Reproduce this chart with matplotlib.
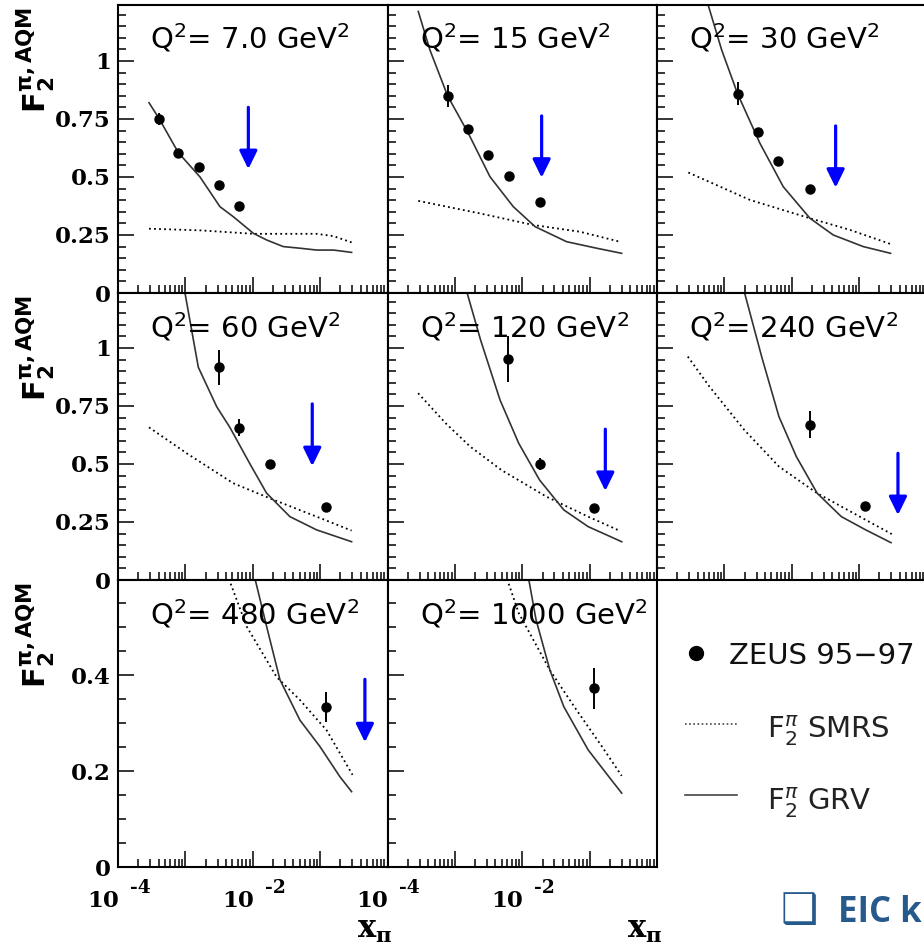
import matplotlib.pyplot as plt
import matplotlib.ticker as ticker
import matplotlib.transforms as mtransforms
import numpy as np

W, H = 924, 947

q2_labels = ['7.0', '15', '30', '60', '120', '240', '480', '1000']

# ZEUS 95-97 points
zeus_x = [
    [4.1e-4, 7.9e-4, 1.6e-3, 3.2e-3, 6.2e-3],
    [7.8e-4, 1.58e-3, 3.13e-3, 6.35e-3, 1.83e-2],
    [1.57e-3, 3.12e-3, 6.3e-3, 1.86e-2],
    [3.14e-3, 6.24e-3, 1.8e-2, 0.121],
    [6.2e-3, 1.81e-2, 0.117],
    [1.84e-2, 0.121],
    [0.121],
    [0.117],
]
zeus_f2 = [
    [0.75, 0.605, 0.542, 0.464, 0.376],
    [0.849, 0.705, 0.593, 0.506, 0.392],
    [0.858, 0.692, 0.570, 0.448],
    [0.917, 0.657, 0.50, 0.316],
    [0.953, 0.50, 0.309],
    [0.67, 0.319],
    [0.334],
    [0.372],
]
zeus_err = [
    [0.025, 0.012, 0.01, 0.01, 0.01],
    [0.047, 0.015, 0.012, 0.012, 0.012],
    [0.05, 0.015, 0.012, 0.012],
    [0.075, 0.035, 0.012, 0.012],
    [0.10, 0.025, 0.012],
    [0.057, 0.012],
    [0.031],
    [0.043],
]

# GRV curves (log10 x_pi)
grv_logx = [
    [-3.54, -3.387, -3.105, -2.783, -2.487, -2.29, -1.99, -1.79, -1.547, -1.30, -1.05, -0.80, -0.533],
    [-3.543, -3.37, -3.107, -2.80, -2.479, -2.133, -1.81, -1.341, -0.896, -0.525],
    [-3.26, -3.04, -2.803, -2.472, -2.126, -1.73, -1.384, -0.939, -0.533],
    [-3.02, -2.808, -2.535, -2.338, -2.041, -1.794, -1.448, -1.052, -0.533],
    [-2.86, -2.618, -2.33, -2.052, -1.743, -1.383, -1.022, -0.524],
    [-2.73, -2.447, -2.19, -1.932, -1.623, -1.263, -0.902, -0.527],
    [-2.0, -1.794, -1.596, -1.30, -1.003, -0.706, -0.533],
    [-1.93, -1.795, -1.589, -1.383, -1.022, -0.714, -0.524],
]
grv_f2 = [
    [0.82, 0.75, 0.605, 0.50, 0.372, 0.329, 0.257, 0.228, 0.20, 0.193, 0.185, 0.185, 0.175],
    [1.213, 1.047, 0.849, 0.688, 0.501, 0.372, 0.286, 0.221, 0.193, 0.171],
    [1.26, 1.047, 0.858, 0.645, 0.458, 0.322, 0.25, 0.20, 0.171],
    [1.26, 0.917, 0.747, 0.657, 0.50, 0.374, 0.273, 0.216, 0.165],
    [1.28, 1.034, 0.776, 0.589, 0.431, 0.302, 0.23, 0.165],
    [1.27, 0.963, 0.704, 0.532, 0.374, 0.273, 0.216, 0.161],
    [0.62, 0.501, 0.39, 0.306, 0.251, 0.188, 0.157],
    [0.62, 0.515, 0.41, 0.334, 0.244, 0.188, 0.154],
]

# SMRS curves (log10 x_pi)
smrs_logx = [
    [-3.54, -2.783, -1.99, -1.05, -0.80, -0.533],
    [-3.543, -2.628, -1.837, -1.144, -0.55],
    [-3.535, -2.62, -1.73, -1.136, -0.533],
    [-3.54, -2.98, -2.289, -1.745, -1.052, -0.533],
    [-3.545, -3.134, -2.773, -2.31, -1.64, -1.022, -0.56],
    [-3.543, -3.22, -2.705, -2.19, -1.623, -0.902, -0.516],
    [-2.38, -2.09, -1.646, -1.30, -0.904, -0.519],
    [-2.25, -2.052, -1.589, -1.228, -0.817, -0.524],
]
smrs_f2 = [
    [0.277, 0.27, 0.255, 0.255, 0.245, 0.218],
    [0.397, 0.343, 0.293, 0.264, 0.221],
    [0.519, 0.401, 0.322, 0.272, 0.211],
    [0.658, 0.546, 0.417, 0.352, 0.273, 0.213],
    [0.805, 0.675, 0.575, 0.474, 0.359, 0.273, 0.213],
    [0.963, 0.833, 0.647, 0.489, 0.374, 0.259, 0.198],
    [0.61, 0.501, 0.396, 0.348, 0.285, 0.192],
    [0.61, 0.529, 0.41, 0.334, 0.251, 0.19],
]

# blue arrows (x, from, to)
arrow_x = [8.6e-3, 1.94e-2, 4.48e-2, 7.64e-2, 0.171, 0.377, 0.462, None]
arrow_from = [0.80, 0.763, 0.72, 0.759, 0.65, 0.546, 0.391, None]
arrow_to = [0.534, 0.497, 0.454, 0.491, 0.384, 0.28, 0.26, None]

col_left = [118, 387.5, 657]
panel_w = 269.5
row_top = [5, 293, 580]
row_h = [288, 287, 287]
row_ymax = [1.241, 1.237, 0.598]

fig = plt.figure(figsize=(W / 100, H / 100), dpi=100, facecolor='white')


def px_axes(left, top, width, height):
    return fig.add_axes([left / W, 1 - (top + height) / H, width / W, height / H])


tick_font = dict(family='DejaVu Serif', weight='bold', color='black')

for i in range(8):
    r, c = divmod(i, 3)
    ax = px_axes(col_left[c], row_top[r], panel_w, row_h[r])
    ax.set_xscale('log')
    ax.set_xlim(1e-4, 1)
    ax.set_ylim(0, row_ymax[r])

    ax.plot(10 ** np.array(smrs_logx[i]), smrs_f2[i], color='black',
            ls=(0, (1, 1.8)), lw=1.3)
    ax.plot(10 ** np.array(grv_logx[i]), grv_f2[i], color='#333333', lw=1.2)
    ax.errorbar(zeus_x[i], zeus_f2[i], yerr=zeus_err[i], fmt='o', color='black',
                ms=6.5, elinewidth=1.4, capsize=0)
    if arrow_x[i] is not None:
        ax.annotate('', xy=(arrow_x[i], arrow_to[i]), xytext=(arrow_x[i], arrow_from[i]),
                    arrowprops=dict(arrowstyle='-|>,head_length=0.55,head_width=0.27',
                                    mutation_scale=20, color='#0000ff', lw=2.3,
                                    shrinkA=0, shrinkB=0))

    ax.text(32 / panel_w, 1 - 44 / row_h[r], r'Q$^2$= ' + q2_labels[i] + r' GeV$^2$',
            transform=ax.transAxes, fontsize=21, family='DejaVu Sans',
            math_fontfamily='dejavusans', va='baseline', ha='left')

    # axis styling
    for sp in ax.spines.values():
        sp.set_linewidth(1.5)
    ax.xaxis.set_major_locator(ticker.LogLocator(base=10, numticks=10))
    ax.xaxis.set_minor_locator(ticker.LogLocator(base=10, subs=np.arange(2, 10), numticks=20))
    ax.xaxis.set_major_formatter(ticker.NullFormatter())
    ax.xaxis.set_minor_formatter(ticker.NullFormatter())
    if r < 2:
        ax.yaxis.set_major_locator(ticker.MultipleLocator(0.25))
    else:
        ax.yaxis.set_major_locator(ticker.MultipleLocator(0.2))
    ax.yaxis.set_minor_locator(ticker.MultipleLocator(0.05))
    if c == 0:
        ax.yaxis.set_major_formatter(ticker.FuncFormatter(lambda v, p: '%g' % v))
    else:
        ax.yaxis.set_major_formatter(ticker.NullFormatter())
    ax.tick_params(which='both', direction='in', top=False, right=False, width=1.1)
    ax.tick_params(which='major', length=11.5, pad=5, labelsize=16.5)
    ax.tick_params(which='minor', length=5.8)
    for lab in ax.get_yticklabels():
        lab.set_fontfamily('DejaVu Serif')
        lab.set_fontweight('bold')

    # bottom row: 10^-4, 10^-2 labels and x title
    if r == 2:
        trans = mtransforms.blended_transform_factory(ax.transData, ax.transAxes)
        for tv, ex in [(1e-4, '-4'), (1e-2, '-2')]:
            ax.text(tv, 0, '10', fontsize=16.5, ha='right', va='baseline',
                    transform=trans + mtransforms.ScaledTranslation(0.01, -0.40, fig.dpi_scale_trans),
                    **tick_font)
            ax.text(tv, 0, ex, fontsize=13.5, ha='left', va='baseline',
                    transform=trans + mtransforms.ScaledTranslation(0.12, -0.255, fig.dpi_scale_trans),
                    **tick_font)
        fig.text((col_left[c] + panel_w + 5) / W, 1 - 938 / H, r'$\mathbf{x}_{\mathbf{\pi}}$',
                 fontsize=22, math_fontfamily='dejavuserif', ha='right', va='baseline')

# y axis titles
for r in range(3):
    fig.text(36 / W, 1 - (row_top[r] + 2) / H, r'$\mathbf{F}_{\mathbf{2}}^{\mathbf{\pi,AQM}}$',
             rotation=90, fontsize=22, math_fontfamily='dejavusans', ha='center', va='top')

# legend (drawn by hand in the empty ninth cell)
fig.lines.append(plt.Line2D([696 / W], [1 - 653 / H], marker='o', ms=10, color='black',
                            transform=fig.transFigure))
fig.text(729 / W, 1 - 664 / H, 'ZEUS 95\u221297', fontsize=21, family='DejaVu Sans',
         color='#111111', va='baseline')
fig.lines.append(plt.Line2D([685 / W, 737 / W], [1 - 724 / H] * 2, ls=(0, (1, 1.5)), lw=1.2,
                            color='#444444', transform=fig.transFigure))
fig.text(767 / W, 1 - 738 / H, r'F$_2^{\pi}$ SMRS', fontsize=21, family='DejaVu Sans',
         math_fontfamily='dejavusans', color='#222222', va='baseline')
fig.lines.append(plt.Line2D([685 / W, 737 / W], [1 - 795 / H] * 2, lw=1.2,
                            color='#444444', transform=fig.transFigure))
fig.text(767 / W, 1 - 810 / H, r'F$_2^{\pi}$ GRV', fontsize=21, family='DejaVu Sans',
         math_fontfamily='dejavusans', color='#222222', va='baseline')

# slide text at the bottom right
fig.text(781 / W, 1 - 923 / H, '\u2751', fontsize=30, family='DejaVu Sans',
         color='#265A8C', va='baseline')
fig.text(838 / W, 1 - 922 / H, 'EIC k', fontsize=25, family='Open Sans',
         weight='bold', color='#265A8C', va='baseline')

fig.savefig('out.png', dpi=100, facecolor='white')
